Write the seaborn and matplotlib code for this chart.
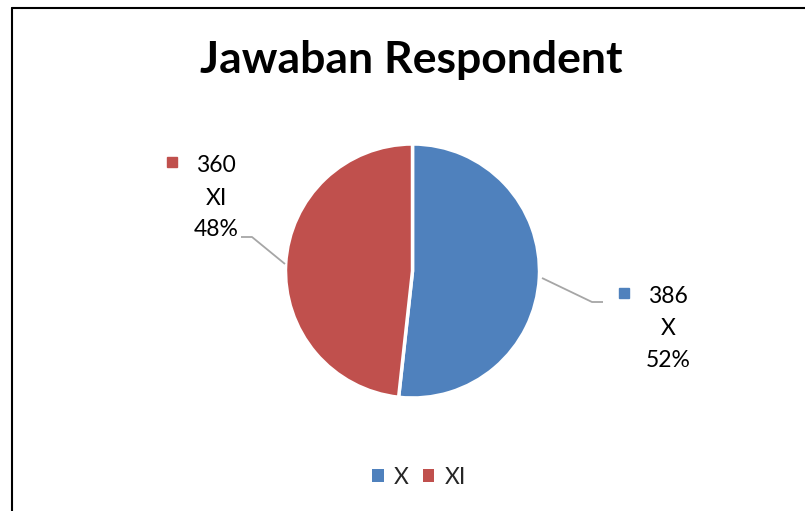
import matplotlib
matplotlib.use("Agg")
import matplotlib.pyplot as plt
import seaborn as sns
from matplotlib.lines import Line2D
from matplotlib.patches import Patch

# ---- data ----
categories = ["X", "XI"]
counts = [386, 360]
colors = ["#4F81BD", "#C0504D"]
title = "Jawaban Respondent"

sns.set_theme(style="white")
plt.rcParams["font.family"] = ["Lato", "DejaVu Sans"]

W, H = 805, 511
fig = plt.figure(figsize=(W / 100, H / 100), dpi=100)
fig.patch.set_facecolor("white")
ax = fig.add_axes([0, 0, 1, 1])

cx, cy, r = 412.5, H - 271, 127
wedges, _ = ax.pie(counts, colors=colors, startangle=90, counterclock=False,
                   center=(cx, cy), radius=r, frame=True,
                   wedgeprops=dict(edgecolor="white", linewidth=2.5))
ax.set_xlim(0, W)
ax.set_ylim(0, H)
ax.set_aspect("auto")
ax.axis("off")

total = sum(counts)
pcts = [round(100 * c / total) for c in counts]

fs = 16.5
line_col = "#A6A6A6"

# label layout (pixel positions, y from top)
label_layout = {
    "X": dict(text_x=668, text_y=[296, 328, 360], sq=(624, 293),
              line=[(542, 278), (592, 302), (603, 302)]),
    "XI": dict(text_x=216, text_y=[165, 198, 229], sq=(172, 162),
               line=[(285, 264), (252, 237), (241, 237)]),
}

for cat, cnt, pct, col in zip(categories, counts, pcts, colors):
    L = label_layout[cat]
    for s, ty in zip([str(cnt), cat, f"{pct}%"], L["text_y"]):
        ax.text(L["text_x"], H - ty, s, ha="center", va="center", fontsize=fs, color="black")
    ax.plot([L["sq"][0]], [H - L["sq"][1]], marker="s", markersize=7.5, color=col,
            linestyle="none")
    xs = [p[0] for p in L["line"]]
    ys = [H - p[1] for p in L["line"]]
    ax.plot(xs, ys, color=line_col, linewidth=1.3, solid_capstyle="butt")

ax.text(411, H - 73, title, ha="center", va="baseline", fontsize=32,
        fontweight="bold", color="black")

handles = [Patch(facecolor=c, edgecolor="none") for c in colors]
fig.legend(handles, categories, loc="center", bbox_to_anchor=(419 / W, 1 - 477 / H),
           ncol=2, frameon=False, fontsize=fs, handlelength=0.5, handleheight=0.5,
           handletextpad=0.45, columnspacing=0.6)

# chart border (top and left visible)
fig.add_artist(Line2D([12 / W, 1.0], [1 - 8 / H, 1 - 8 / H], color="black", linewidth=1.5,
                      transform=fig.transFigure))
fig.add_artist(Line2D([12 / W, 12 / W], [1 - 8 / H, 0], color="black", linewidth=1.5,
                      transform=fig.transFigure))

fig.savefig("out.png", dpi=100, facecolor="white")
